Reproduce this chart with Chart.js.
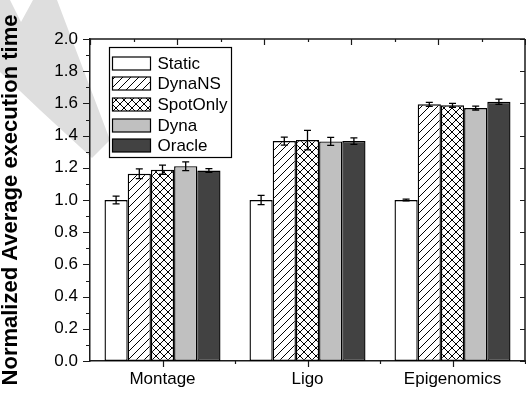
<!DOCTYPE html>
<html><head><meta charset="utf-8">
<script src="https://cdn.jsdelivr.net/npm/chart.js@4.4.1/dist/chart.umd.min.js"></script>
<style>html,body{margin:0;padding:0;background:#fff}canvas{display:block}</style>
</head><body>
<canvas id="c" width="526" height="400"></canvas>
<script>
const categories = ['Montage', 'Ligo', 'Epigenomics'];
const seriesNames = ['Static', 'DynaNS', 'SpotOnly', 'Dyna', 'Oracle'];
const staticVals   = [1.000, 1.000, 1.000];
const dynaNSVals   = [1.163, 1.366, 1.594];
const spotOnlyVals = [1.188, 1.372, 1.588];
const dynaVals     = [1.210, 1.364, 1.571];
const oracleVals   = [1.183, 1.366, 1.610];
const staticErr    = [0.024, 0.029, 0.006];
const dynaNSErr    = [0.030, 0.025, 0.012];
const spotOnlyErr  = [0.028, 0.061, 0.012];
const dynaErr      = [0.027, 0.025, 0.012];
const oracleErr    = [0.012, 0.020, 0.016];
const yAxisTitle = 'Normalized Average execution time';

const FONT = "'Liberation Sans', Arial, sans-serif";
const canvas = document.getElementById('c');
const ctx0 = canvas.getContext('2d');

function hatch(cross) {
  const s = 8;
  const c = document.createElement('canvas');
  c.width = s; c.height = s;
  const g = c.getContext('2d');
  g.fillStyle = '#fff'; g.fillRect(0, 0, s, s);
  g.strokeStyle = '#000'; g.lineWidth = 1;
  g.beginPath();
  g.moveTo(0, s); g.lineTo(s, 0);
  g.moveTo(-1, 1); g.lineTo(1, -1);
  g.moveTo(s - 1, s + 1); g.lineTo(s + 1, s - 1);
  if (cross) {
    g.moveTo(0, 0); g.lineTo(s, s);
    g.moveTo(-1, s - 1); g.lineTo(1, s + 1);
    g.moveTo(s - 1, -1); g.lineTo(s + 1, 1);
  }
  g.stroke();
  return ctx0.createPattern(c, 'repeat');
}

const fills = ['#ffffff', hatch(false), hatch(true), '#c0c0c0', '#424242'];
const values = [staticVals, dynaNSVals, spotOnlyVals, dynaVals, oracleVals];
const errs = [staticErr, dynaNSErr, spotOnlyErr, dynaErr, oracleErr];

const datasets = seriesNames.map((name, i) => ({
  label: name,
  data: values[i],
  errors: errs[i],
  backgroundColor: fills[i],
  borderColor: '#000',
  borderWidth: 1.4,
  borderSkipped: false,
  categoryPercentage: 0.8,
  barPercentage: 1.0
}));

const watermark = {
  id: 'watermark',
  beforeDraw(chart) {
    const c = chart.ctx;
    c.save();
    c.fillStyle = '#dedede';
    c.beginPath();
    c.moveTo(0, 0); c.lineTo(10, 0); c.lineTo(21, 22); c.lineTo(33, 0); c.lineTo(57, 0);
    c.lineTo(110, 140); c.lineTo(92, 158); c.lineTo(40, 110); c.lineTo(0, 72);
    c.closePath(); c.fill();
    c.restore();
  }
};

const errorBars = {
  id: 'errorBars',
  afterDatasetsDraw(chart) {
    const c = chart.ctx, y = chart.scales.y;
    c.save();
    c.strokeStyle = '#000'; c.lineWidth = 1.3;
    chart.data.datasets.forEach((ds, i) => {
      const meta = chart.getDatasetMeta(i);
      meta.data.forEach((bar, j) => {
        const v = ds.data[j], e = ds.errors[j];
        const yt = y.getPixelForValue(v + e), yb = y.getPixelForValue(v - e);
        c.beginPath();
        c.moveTo(bar.x, yt); c.lineTo(bar.x, yb);
        c.moveTo(bar.x - 3.5, yt); c.lineTo(bar.x + 3.5, yt);
        c.moveTo(bar.x - 3.5, yb); c.lineTo(bar.x + 3.5, yb);
        c.stroke();
      });
    });
    c.restore();
  }
};

const frame = {
  id: 'frame',
  afterDraw(chart) {
    const c = chart.ctx, a = chart.chartArea, x = chart.scales.x, y = chart.scales.y;
    c.save();
    c.strokeStyle = '#1a1a1a'; c.lineWidth = 1.5;
    c.beginPath();
    c.moveTo(a.left, a.top); c.lineTo(a.right, a.top);
    c.moveTo(a.right, a.top); c.lineTo(a.right, a.bottom);
    c.stroke();
    c.lineWidth = 1.2;
    c.beginPath();
    // left ticks (outward), major at 0.2, minor at 0.1
    for (let k = 0; k <= 20; k++) {
      const py = Math.round(y.getPixelForValue(k / 10)) + 0.5;
      const len = k % 2 === 0 ? 7 : 4;
      c.moveTo(a.left - len, py); c.lineTo(a.left, py);
      if (k % 2 === 0) { c.moveTo(a.right - 5, py); c.lineTo(a.right, py); }
    }
    // bottom ticks
    const half = (x.getPixelForValue(1) - x.getPixelForValue(0)) / 2;
    categories.forEach((_, i) => {
      const px = Math.round(x.getPixelForValue(i)) + 0.5;
      c.moveTo(px, a.bottom); c.lineTo(px, a.bottom + 6);
      const bx = Math.round(x.getPixelForValue(i) + half) + 0.5;
      c.moveTo(bx, a.bottom); c.lineTo(bx, a.bottom + 3);
    });
    // top ticks (inward)
    for (let k = 0; k <= 10; k++) {
      const px = Math.round(a.left + (a.right - a.left) * k / 10) + 0.5;
      const len = k % 2 === 0 ? 6 : 3;
      c.moveTo(px, a.top); c.lineTo(px, a.top + len);
    }
    c.stroke();
    c.restore();
  }
};

const boxLegend = {
  id: 'boxLegend',
  afterDraw(chart) {
    const c = chart.ctx, a = chart.chartArea;
    const L = a.left + 19.5, T = a.top + 8.5;
    c.save();
    c.fillStyle = '#fff';
    c.fillRect(L, T, 122, 110);
    c.strokeStyle = '#000'; c.lineWidth = 1.2;
    c.strokeRect(L, T, 122, 110);
    c.font = '17px ' + FONT;
    c.textBaseline = 'middle';
    chart.data.datasets.forEach((ds, i) => {
      const cy = T + 15.5 + i * 20.7;
      c.fillStyle = ds.backgroundColor;
      c.fillRect(L + 3, Math.round(cy - 6.5), 38, 13);
      c.strokeRect(L + 3, Math.round(cy - 6.5), 38, 13);
      c.fillStyle = '#000';
      c.fillText(ds.label, L + 48, cy + 1);
    });
    c.restore();
  }
};

new Chart(canvas, {
  type: 'bar',
  data: { labels: categories, datasets: datasets },
  plugins: [watermark, errorBars, frame, boxLegend],
  options: {
    responsive: false,
    animation: false,
    devicePixelRatio: 1,
    layout: { padding: { left: 0, right: 1, top: 39, bottom: 0 } },
    plugins: { legend: { display: false }, tooltip: { enabled: false } },
    scales: {
      x: {
        grid: { display: false, drawTicks: false },
        border: { display: true, color: '#1a1a1a', width: 1.5 },
        ticks: { color: '#000', font: { family: FONT, size: 17 }, padding: 8 },
        afterFit(s) { s.height = 39; }
      },
      y: {
        min: 0, max: 2,
        grid: { display: false, drawTicks: false },
        border: { display: true, color: '#1a1a1a', width: 1.5 },
        ticks: {
          stepSize: 0.2, color: '#000', font: { family: FONT, size: 17 }, padding: 12,
          callback: v => Number(v).toFixed(1)
        },
        title: {
          display: true, text: yAxisTitle, color: '#000',
          font: { family: FONT, size: 22, weight: 'bold', lineHeight: 1 },
          padding: { top: 0, bottom: 0 }
        },
        afterFit(s) { s.width = 90; }
      }
    }
  }
});
</script>
</body></html>
